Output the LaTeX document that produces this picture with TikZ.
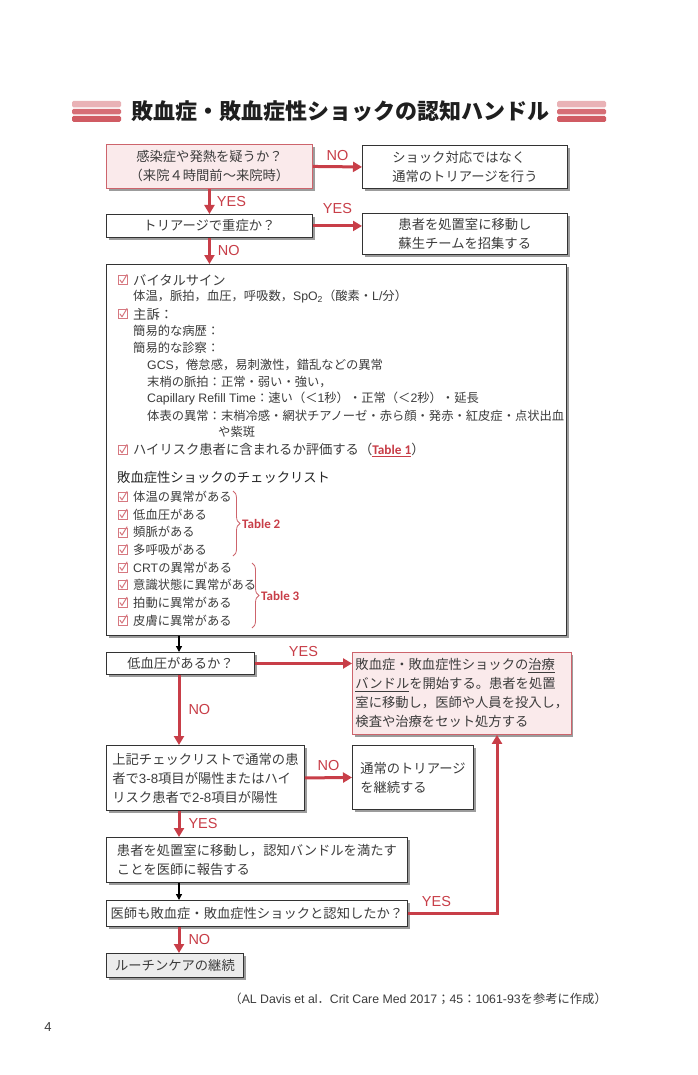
\documentclass[tikz,border=0pt]{standalone}
\usepackage{fontspec}
\setmainfont{Noto Sans CJK JP}
\newfontfamily\tabfont{Carlito}
\newfontfamily\latf{Liberation Sans}
\usetikzlibrary{arrows.meta,shadows,decorations.pathreplacing,positioning}

\definecolor{sred}{RGB}{200,62,72}
\definecolor{sbord}{RGB}{205,100,108}
\definecolor{spink}{RGB}{250,234,235}
\definecolor{sgray}{RGB}{236,236,236}
\definecolor{chkcol}{RGB}{214,120,128}
\definecolor{txt}{RGB}{60,60,60}

\newcommand{\boxfont}{\fontsize{13.3}{19}\selectfont}
\newcommand{\itmfont}{\fontsize{12.3}{15}\selectfont}
\newcommand{\hdfont}{\fontsize{13.3}{16}\selectfont}
\newcommand{\lblfont}{\latf\fontsize{14.5}{17}\selectfont}
\newcommand{\tabl}[1]{{\color{sred}\tabfont\bfseries #1}}

\tikzset{
  box/.style={draw=black!80, line width=0.9pt, fill=white, inner sep=3pt,
    drop shadow={shadow xshift=2.2pt, shadow yshift=-2.2pt, fill=black!55, opacity=0.7},
    align=left, text=txt, font=\boxfont, anchor=north west},
  pinkbox/.style={box, draw=sbord, fill=spink},
  graybox/.style={box, fill=sgray},
  yesno/.style={text=sred, font=\lblfont, inner sep=0pt},
  redarrow/.style={draw=sred, line width=3pt, -{Triangle[width=10pt,length=9pt]}},
  blackarrow/.style={draw=black, line width=1.3pt, -{Triangle[width=6pt,length=6pt]}},
  itm/.style={anchor=west, inner sep=0pt, text=txt, font=\itmfont},
  tbrace/.style={draw=sbord, line width=0.8pt, decorate,
    decoration={brace, amplitude=7pt}},
  chkbox/.pic={
    \draw[chkcol, line width=0.6pt] (-4.5,-4.5) rectangle (4.5,4.5);
    \draw[chkcol, line width=1pt, line cap=round, line join=round]
      (-2.5,0) -- (-0.5,2.8) -- (4.5,-5.5);
  }
}

\begin{document}
\begin{tikzpicture}[x=1pt, y=-1pt]
\useasboundingbox[fill=white] (0,0) rectangle (697,1075);

% Title
\foreach \bx in {72,557} {
  \fill[sred!40, rounded corners=1.5pt] (\bx,101) rectangle ({\bx+49},107.5);
  \fill[sred!75, rounded corners=1.5pt] (\bx,109) rectangle ({\bx+49},114.5);
  \fill[sred!85, rounded corners=1.5pt] (\bx,116) rectangle ({\bx+49},122);
}
\node[font=\fontsize{22}{26}\selectfont\bfseries, text=black!88] (title) at (340,111)
  {敗血症・敗血症性ショックの認知ハンドル};

% Upper flow
\node[pinkbox, minimum width=206, minimum height=44, align=center] (q1) at (106,144)
  {感染症や発熱を疑うか？\\（来院４時間前～来院時）};
\node[box, minimum width=205, minimum height=43] (no1) at (362,145)
  {ショック対応ではなく\\通常のトリアージを行う};
\node[box, minimum width=206, minimum height=23, align=center] (q2) at (106,214)
  {トリアージで重症か？};
\node[box, minimum width=205, minimum height=41] (res) at (362,213)
  {患者を処置室に移動し\\蘇生チームを招集する};

\draw[redarrow] (q1.east) -- node[yesno, above=5pt] (lno1) {NO} (no1.west);
\draw[redarrow] (q1.south) -- node[yesno, right=6pt] (lyes1) {YES} (q2.north);
\draw[redarrow] (q2.east) -- node[yesno, above=11pt] (lyes2) {YES} (q2.east -| res.west);

% Assessment box
\node[box, minimum width=460, minimum height=371] (assess) at (106,264) {};
\draw[redarrow] (q2.south) -- node[yesno, right=7pt] (lno2) {NO} (q2.south |- assess.north);

\pic at (122.5,280) {chkbox};
\node[itm, font=\hdfont] (vs) at (133,280) {バイタルサイン};
\node[itm] (vs1) at (133,297) {体温，脈拍，血圧，呼吸数，{\latf SpO\textsubscript{2}}（酸素・{\latf L/}分）};
\pic at (122.5,314) {chkbox};
\node[itm, font=\hdfont] (cc) at (133,314) {主訴：};
\node[itm] (cc1) at (133,331) {簡易的な病歴：};
\node[itm] (cc2) at (133,348) {簡易的な診察：};
\node[itm] (cc3) at (147,365) {{\latf GCS}，倦怠感，易刺激性，錯乱などの異常};
\node[itm] (cc4) at (147,382) {末梢の脈拍：正常・弱い・強い，};
\node[itm] (cc5) at (147,399) {{\latf Capillary Refill Time}：速い（＜{\latf 1}秒）・正常（＜{\latf 2}秒）・延長};
\node[itm] (cc6) at (147,416) {体表の異常：末梢冷感・網状チアノーゼ・赤ら顔・発赤・紅皮症・点状出血};
\node[itm] (cc7) at (218,432) {や紫斑};
\pic at (122.5,450) {chkbox};
\node[itm, font=\hdfont] (hr) at (133,450)
  {ハイリスク患者に含まれるか評価する（{\color{sred}\underline{\tabfont\bfseries Table 1}}）};

\node[itm, font=\hdfont, text=black!85] (clist) at (117,477) {敗血症性ショックのチェックリスト};
\foreach \t [count=\i] in {体温の異常がある, 低血圧がある, 頻脈がある, 多呼吸がある,
    {{\latf CRT}の異常がある}, 意識状態に異常がある, 拍動に異常がある, 皮膚に異常がある} {
  \pic at (122.5,{479.5+17.6*\i}) {chkbox};
  \node[itm] (c\i) at (133,{479.5+17.6*\i}) {\t};
}
\draw[tbrace] (233,491) -- (233,556);
\node[anchor=west, inner sep=0pt, font=\fontsize{13}{15}\selectfont] (t2) at (242,523.5) {\tabl{Table 2}};
\draw[tbrace] (252,563) -- (252,628);
\node[anchor=west, inner sep=0pt, font=\fontsize{13}{15}\selectfont] (t3) at (261,595.5) {\tabl{Table 3}};

% Lower flow
\coordinate (spine) at (179,0);
\coordinate (back) at (497,0);
\node[box, minimum width=148, minimum height=22, align=center] (hypo) at (106,652)
  {低血圧があるか？};
\node[pinkbox, minimum width=215, minimum height=82] (bundle) at (352,652)
  {敗血症・敗血症性ショックの\underline{治療}\\\underline{バンドル}を開始する。患者を処置\\室に移動し，医師や人員を投入し，\\検査や治療をセット処方する};
\node[box, minimum width=198, minimum height=65] (crit) at (106,745)
  {上記チェックリストで通常の患\\者で{\latf 3-8}項目が陽性またはハイ\\リスク患者で{\latf 2-8}項目が陽性};
\node[box, minimum width=121, minimum height=64] (cont) at (352,745)
  {通常のトリアージ\\を継続する};
\node[box, minimum width=301, minimum height=45] (report) at (106,837)
  {患者を処置室に移動し，認知バンドルを満たす\\ことを医師に報告する};
\node[box, minimum width=301, minimum height=26] (recog) at (106,900)
  {医師も敗血症・敗血症性ショックと認知したか？};
\node[graybox, minimum width=137, minimum height=24] (routine) at (106,953)
  {ルーチンケアの継続};

\draw[blackarrow] (assess.south -| spine) -- (hypo.north -| spine);
\draw[redarrow] (hypo.east) -- node[yesno, above=5pt] (lyes3) {YES} (hypo.east -| bundle.west);
\draw[redarrow] (hypo.south -| spine) -- node[yesno, right=8pt] (lno3) {NO} (crit.north -| spine);
\draw[redarrow] (crit.east) -- node[yesno, above=6pt] (lno4) {NO} (cont.west);
\draw[redarrow] (crit.south -| spine) -- node[yesno, right=8pt] (lyes4) {YES} (report.north -| spine);
\draw[blackarrow] (report.south -| spine) -- (recog.north -| spine);
\draw[redarrow] (recog.east) -| node[yesno, pos=0.16, above=5pt] (lyes5) {YES} (bundle.south -| back);
\draw[redarrow] (recog.south -| spine) -- node[yesno, right=8pt] (lno5) {NO} (routine.north -| spine);

% Source and page
\node[anchor=east, inner sep=0pt, text=txt, font=\fontsize{12.3}{15}\selectfont] (cite) at (607,999)
  {（{\latf AL Davis et al}．{\latf Crit Care Med 2017}；{\latf 45}：{\latf 1061-93}を参考に作成）};
\node[inner sep=0pt, text=txt, font=\latf\fontsize{13}{15}\selectfont] (pnum) at (48,1027) {4};
\end{tikzpicture}
\end{document}
